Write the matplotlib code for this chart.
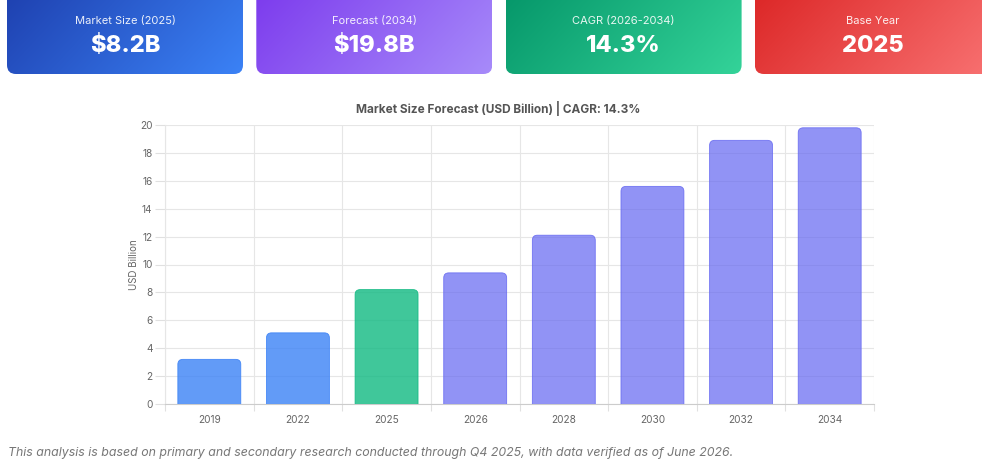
import numpy as np
import matplotlib
matplotlib.use('Agg')
import matplotlib.pyplot as plt
from matplotlib.patches import FancyBboxPatch

plt.rcParams['font.family'] = ['Inter', 'DejaVu Sans']

# chart data
years = ['2019', '2022', '2025', '2026', '2028', '2030', '2032', '2034']
market_size = [3.2, 5.1, 8.2, 9.4, 12.1, 15.6, 18.9, 19.8]
bar_kind = ['hist', 'hist', 'base', 'fc', 'fc', 'fc', 'fc', 'fc']

# summary cards
card_labels = ['Market Size (2025)', 'Forecast (2034)', 'CAGR (2026-2034)', 'Base Year']
card_values = ['$8.2B', '$19.8B', '14.3%', '2025']
card_colors = [('#1e40af', '#3b82f6'), ('#7c3aed', '#a78bfa'),
               ('#059669', '#34d399'), ('#dc2626', '#f87171')]

kind_style = {
    'hist': ((59/255, 130/255, 246/255, 0.8), (59/255, 130/255, 246/255, 0.9)),
    'base': ((16/255, 185/255, 129/255, 0.8), (16/255, 185/255, 129/255, 0.9)),
    'fc': ((99/255, 102/255, 241/255, 0.7), (99/255, 102/255, 241/255, 0.85)),
}

W, H = 982, 462
fig = plt.figure(figsize=(W / 100, H / 100), dpi=100)

# overlay in pixel coordinates for the cards
over = fig.add_axes([0, 0, 1, 1])
over.set_xlim(0, W)
over.set_ylim(H, 0)
over.axis('off')


def hex_rgb(h):
    h = h.lstrip('#')
    return np.array([int(h[i:i + 2], 16) for i in (0, 2, 4)]) / 255.0


card_w, card_gap, card_x0 = 236, 13.3, 7
for i, (lab, val, (c1, c2)) in enumerate(zip(card_labels, card_values, card_colors)):
    x0 = card_x0 + i * (card_w + card_gap)
    y0, y1 = -12, 74
    patch = FancyBboxPatch((x0, y0), card_w, y1 - y0,
                           boxstyle='round,pad=0,rounding_size=9',
                           facecolor='none', edgecolor='none')
    over.add_patch(patch)
    gx, gy = np.meshgrid(np.linspace(0, 1, 200), np.linspace(0, 1, 60))
    t = (gx * 0.75 + gy * 0.25)[..., None]
    img = hex_rgb(c1) * (1 - t) + hex_rgb(c2) * t
    im = over.imshow(img, extent=(x0, x0 + card_w, y1, y0), aspect='auto',
                     interpolation='bilinear', zorder=1)
    im.set_clip_path(patch)
    cx = x0 + card_w / 2
    over.text(cx, 21, lab, color='white', alpha=0.9, fontsize=8,
              ha='center', va='center', zorder=3)
    over.text(cx, 46.5, val, color='white', fontsize=17, fontweight='heavy',
              ha='center', va='center', zorder=3)

# bar chart
ax = fig.add_axes([165 / W, (H - 404) / H, 709 / W, 279 / H])
ax.set_xlim(-0.5, len(years) - 0.5)
ax.set_ylim(0, 20)

x_px = 709 / len(years)
y_px = 279 / 20
r = 5
bar_w = 0.71
for i, (v, k) in enumerate(zip(market_size, bar_kind)):
    fc, ec = kind_style[k]
    p = FancyBboxPatch((i - bar_w / 2, -1), bar_w, v + 1,
                       boxstyle='round,pad=0,rounding_size=%f' % (r / x_px),
                       mutation_aspect=x_px / y_px,
                       facecolor=fc, edgecolor=ec, linewidth=0.6, zorder=3)
    ax.add_patch(p)

ax.set_yticks(range(0, 21, 2))
ax.set_xticks(range(len(years)))
ax.set_xticklabels(years)
ax.set_xticks(np.arange(-0.5, len(years), 1), minor=True)
ax.grid(axis='y', which='major', color='#e6e6e6', linewidth=0.8, zorder=0)
ax.grid(axis='x', which='minor', color='#e6e6e6', linewidth=0.8, zorder=0)
ax.tick_params(axis='x', which='major', length=0, pad=8, labelsize=7.3, labelcolor='#666666')
ax.tick_params(axis='x', which='minor', length=5, color='#e0e0e0', width=0.8)
ax.tick_params(axis='y', length=7, color='#e0e0e0', width=0.8, pad=2,
               labelsize=7.3, labelcolor='#666666')
for s in ['top', 'right']:
    ax.spines[s].set_visible(False)
ax.spines['left'].set_color('#e6e6e6')
ax.spines['bottom'].set_color('#cccccc')
ax.spines['left'].set_linewidth(0.8)
ax.spines['bottom'].set_linewidth(0.8)
ax.set_ylabel('USD Billion', fontsize=7, color='#666666', labelpad=1)

fig.text(498 / W, 1 - 109 / H, 'Market Size Forecast (USD Billion) | CAGR: 14.3%',
         ha='center', va='center', fontsize=8.5, fontweight='bold', color='#555555')

# footer note (sits at the very bottom edge, as in the reference)
fig.text(8 / W, 1 - 447 / H,
         'This analysis is based on primary and secondary research conducted through Q4 2025, '
         'with data verified as of June 2026.',
         ha='left', va='top', fontsize=8.9, style='italic', color='#777777')

fig.savefig('out.png', dpi=100)
